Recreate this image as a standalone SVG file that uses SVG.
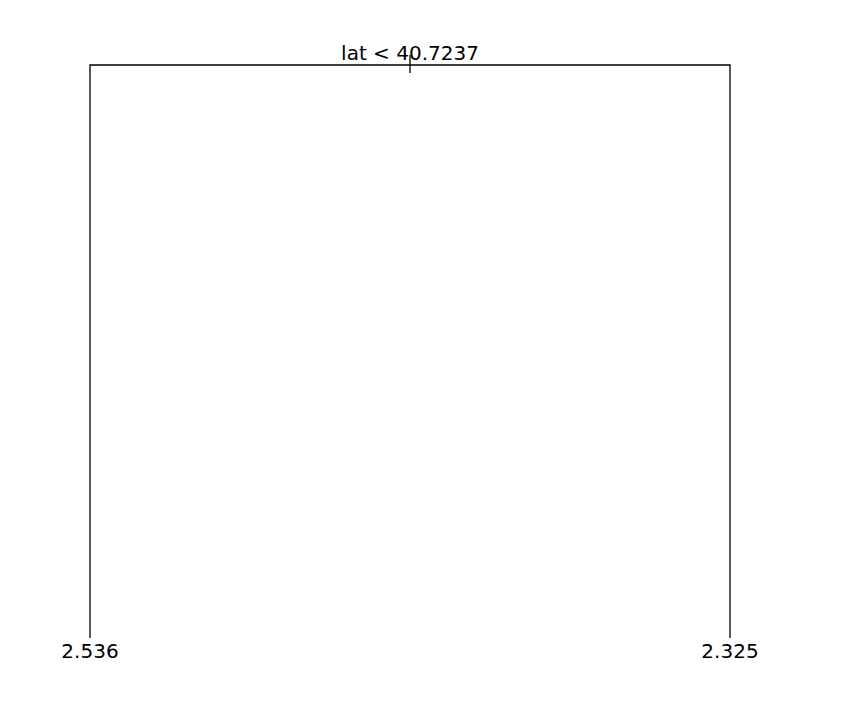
<svg xmlns="http://www.w3.org/2000/svg" width="848" height="702" viewBox="0 0 848 702">
<style>
text{font-family:"DejaVu Sans",sans-serif;font-size:20px;fill:#000;text-anchor:middle}
.e{stroke:#000;stroke-width:1.3;fill:none}
</style>
<rect width="848" height="702" fill="#fff"/>
<g id="connectors">
<path class="e" d="M90,638V65H730V638"/>
<path class="e" d="M410,55V73"/>
</g>
<g id="root"><text x="410" y="60">lat &lt; 40.7237</text></g>
<g id="leaf1"><text x="90" y="658">2.536</text></g>
<g id="leaf2"><text x="730" y="658">2.325</text></g>
</svg>
